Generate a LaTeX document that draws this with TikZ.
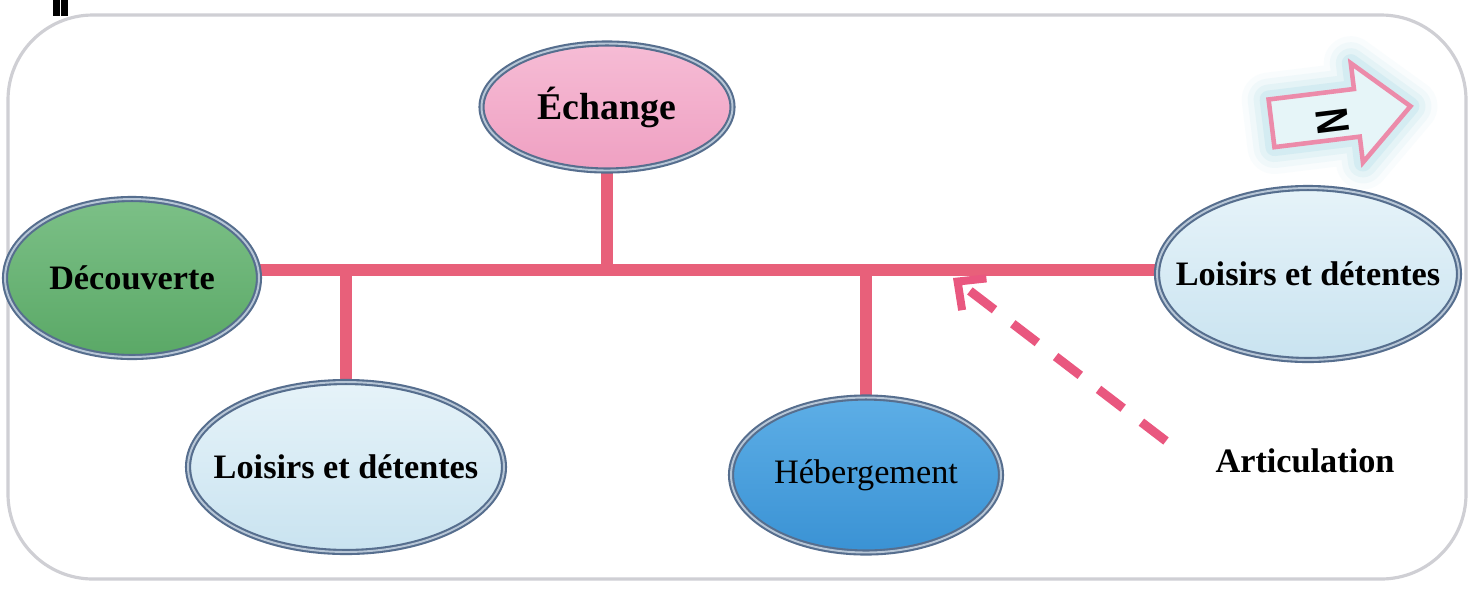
\documentclass[tikz,border=0pt]{standalone}
\usepackage{fontspec}
\setmainfont{Liberation Serif}
\newfontfamily\nfont{Liberation Sans}
\usetikzlibrary{shapes.geometric,arrows.meta,backgrounds}
\definecolor{linkpink}{HTML}{E8607A}
\definecolor{dashpink}{HTML}{E9577F}
\definecolor{rimblue}{HTML}{566E8E}
\definecolor{rimlight}{HTML}{B7C6D6}
\definecolor{pinkfill}{HTML}{EFA0C2}
\definecolor{pinktop}{HTML}{F6BCD5}
\definecolor{greenfill}{HTML}{5AA866}
\definecolor{greentop}{HTML}{7CC087}
\definecolor{bluefill}{HTML}{3A92D4}
\definecolor{bluetop}{HTML}{5DAEE6}
\definecolor{lightfill}{HTML}{C9E3F0}
\definecolor{lighttop}{HTML}{E6F3F9}
\definecolor{framegray}{HTML}{CFCFD4}
\definecolor{glowcyan}{HTML}{8FD0E0}
\definecolor{arrowpink}{HTML}{EC8BAA}
\begin{document}
\begin{tikzpicture}[x=0.02cm,y=-0.02cm,
  bubble/.style={ellipse, inner sep=0pt, draw=rimblue, double=rimlight,
    double distance=1.1pt, line width=1.2pt, text=black,
    font=\bfseries\fontsize{19.5}{22}\selectfont},
  link/.style={draw=linkpink, line width=0.23cm},
  artarrow/.style={draw=dashpink, line width=0.18cm, dash pattern=on 0.62cm off 0.46cm,
    -{Straight Barb[length=0.42cm,width=0.8cm,line width=0.16cm]}},
]
\useasboundingbox (0,0) rectangle (1478,593);

% nodes
\node[bubble, minimum width=5.02cm, minimum height=2.54cm,
  top color=pinktop, bottom color=pinkfill,
  font=\bfseries\fontsize{21.5}{24}\selectfont] (ech) at (607,107) {\makebox[0pt]{Échange}};
\node[bubble, minimum width=5.08cm, minimum height=3.16cm,
  top color=greentop, bottom color=greenfill] (dec) at (132,278) {\makebox[0pt]{Découverte}};
\node[bubble, minimum width=6.32cm, minimum height=3.4cm,
  top color=lighttop, bottom color=lightfill] (lrb) at (346,467) {\makebox[0pt]{Loisirs et détentes}};
\node[bubble, minimum width=5.4cm, minimum height=3.1cm,
  top color=bluetop, bottom color=bluefill,
  font=\fontsize{19.5}{22}\selectfont] (heb) at (866,475) {\makebox[0pt]{Hébergement}};
\node[bubble, minimum width=6.04cm, minimum height=3.44cm,
  top color=lighttop, bottom color=lightfill] (lrr) at (1308,274) {\makebox[0pt]{Loisirs et détentes}};
\node[font=\bfseries\fontsize{19.5}{22}\selectfont] (art) at (1305,461) {Articulation};

\coordinate (mainy) at (600,270);
\coordinate (arttail) at (1166,441);
\coordinate (arttip) at (953,278);

% north arrow
\begin{scope}[shift={(1339,115)}, rotate=7]
  \foreach \w/\o in {54/0.05, 42/0.08, 30/0.12, 18/0.18}{
    \draw[glowcyan, opacity=\o, line width=\w*0.567pt, line join=round]
      (-68,-24) -- (18,-24) -- (18,-50) -- (72,0) -- (18,50) -- (18,24) -- (-68,24) -- cycle;
  }
  \filldraw[fill=glowcyan!22, draw=arrowpink, line width=2.6pt, line join=miter]
    (-68,-24) -- (18,-24) -- (18,-50) -- (72,0) -- (18,50) -- (18,24) -- (-68,24) -- cycle;
\end{scope}
\node[rotate=-83, xscale=0.78, inner sep=0pt, font=\nfont\bfseries\fontsize{26}{26}\selectfont] (nlab) at (1333,121) {N};

\begin{pgfonlayer}{background}
  \fill[white] (0,0) rectangle (1478,593);
  \fill[black] (53,0) rectangle (60,16);
  \fill[black] (61,0) rectangle (68,16);
  \draw[framegray, line width=1.8pt, rounded corners=1.7cm] (8,15) rectangle (1466,579);
  \draw[link] (dec.east |- mainy) -- (lrr.west |- mainy);
  \draw[link] (ech) -- (ech |- mainy);
  \draw[link] (lrb) -- (lrb |- mainy);
  \draw[link] (heb) -- (heb |- mainy);
\end{pgfonlayer}

\draw[artarrow] (arttail) -- (arttip);
\end{tikzpicture}
\end{document}
